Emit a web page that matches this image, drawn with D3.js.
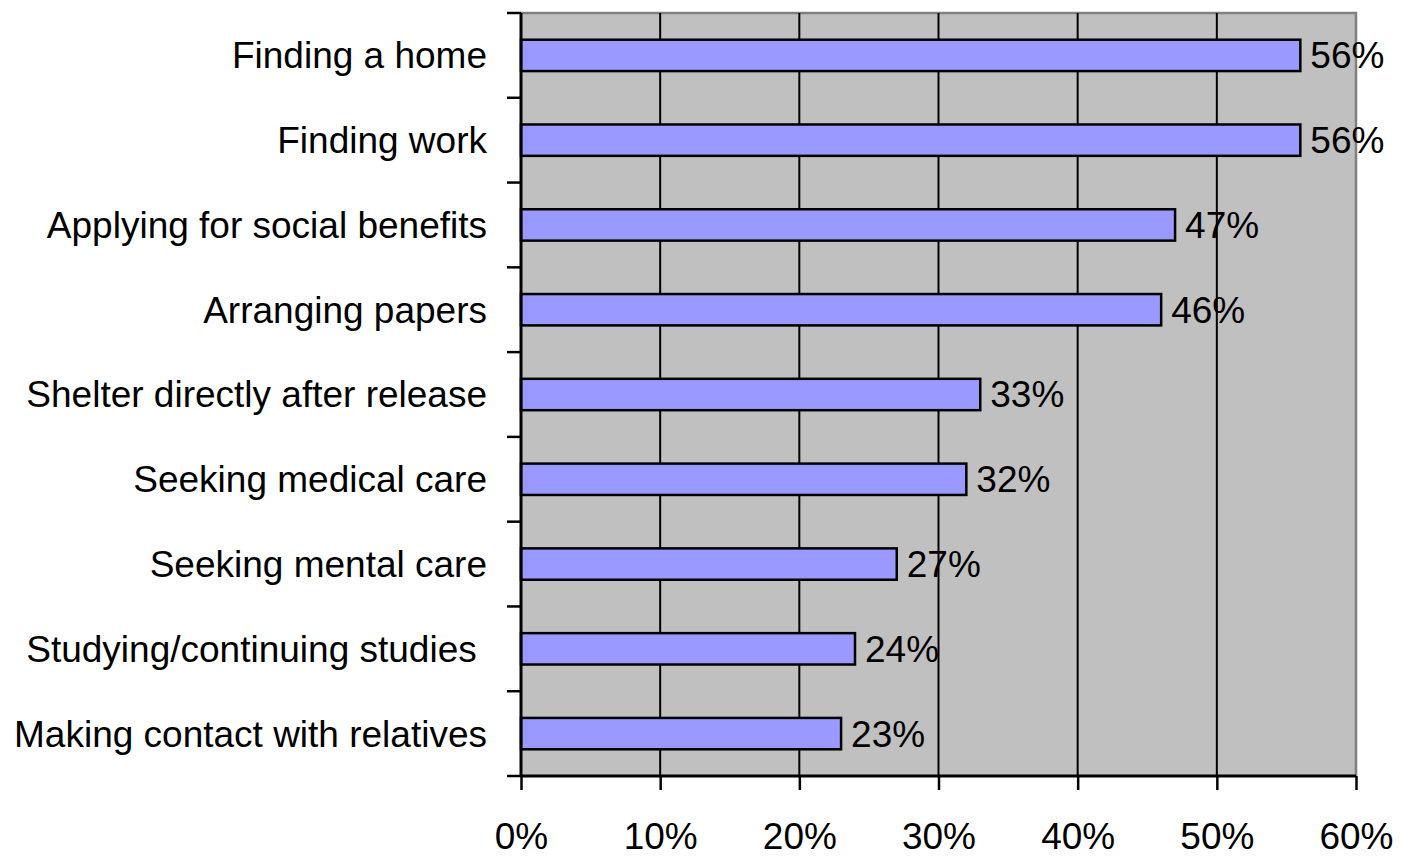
<!DOCTYPE html>
<html>
<head>
<meta charset="utf-8">
<script src="https://cdn.jsdelivr.net/npm/d3@7"></script>
<style>
  body { margin: 0; background: #fff; }
  svg text { font-family: "Liberation Sans", Arial, sans-serif; fill: #000; white-space: pre; }
</style>
</head>
<body>
<svg id="chart" width="1403" height="865"></svg>
<script>
var categories = ['Finding a home', 'Finding work', 'Applying for social benefits', 'Arranging papers',
                  'Shelter directly after release', 'Seeking medical care', 'Seeking mental care',
                  'Studying/continuing studies ', 'Making contact with relatives']
var values =     [56, 56, 47, 46, 33, 32, 27, 24, 23]
var xTicks =     [0, 10, 20, 30, 40, 50, 60]

var margin = { top: 13, right: 47, bottom: 89, left: 521 }
var width =  1403 - margin.left - margin.right
var height = 865 - margin.top - margin.bottom
var fontSize = 37

var svg = d3.select('#chart')
var g = svg.append('g').attr('transform', 'translate(' + margin.left + ',' + margin.top + ')')

var x = d3.scaleLinear().domain([0, 60]).range([0, width])
var y = d3.scaleBand().domain(categories).range([0, height]).paddingInner(0.63).paddingOuter(0.315)

// plot area
g.append('rect')
    .attr('width', width).attr('height', height)
    .attr('fill', '#c0c0c0')
g.append('path')
    .attr('d', 'M0,0H' + width + 'V' + height)
    .attr('fill', 'none').attr('stroke', '#808080').attr('stroke-width', 2.5)

// gridlines
g.selectAll('.grid').data(xTicks.slice(1, -1)).enter().append('line')
    .attr('x1', d => x(d)).attr('x2', d => x(d))
    .attr('y1', 0).attr('y2', height)
    .attr('stroke', '#000').attr('stroke-width', 2)

// bars
g.selectAll('.bar').data(values).enter().append('rect')
    .attr('x', 0)
    .attr('y', (d, i) => y(categories[i]))
    .attr('width', d => x(d))
    .attr('height', y.bandwidth())
    .attr('fill', '#9999ff').attr('stroke', '#000').attr('stroke-width', 2.5)

// value labels
g.selectAll('.val').data(values).enter().append('text')
    .attr('x', d => x(d) + 10)
    .attr('y', (d, i) => y(categories[i]) + y.bandwidth() / 2)
    .attr('dy', '0.35em')
    .attr('font-size', fontSize)
    .text(d => d + '%')

// x axis
var xAxis = g.append('g').attr('transform', 'translate(0,' + height + ')')
    .call(d3.axisBottom(x).tickValues(xTicks).tickFormat(d => d + '%').tickSize(14).tickPadding(33))
xAxis.select('.domain').attr('stroke-width', 3).attr('d', 'M0,0H' + width)
xAxis.selectAll('.tick line').attr('stroke-width', 2.5)
xAxis.selectAll('text').attr('font-size', fontSize).attr('font-family', '"Liberation Sans", Arial, sans-serif')

// y axis: ticks at band boundaries
var bounds = d3.range(categories.length + 1).map(i => i * height / categories.length)
var yAxis = g.append('g')
yAxis.append('line').attr('x1', 0).attr('x2', 0).attr('y1', 0).attr('y2', height)
    .attr('stroke', '#000').attr('stroke-width', 3)
yAxis.selectAll('.tk').data(bounds).enter().append('line')
    .attr('x1', -14).attr('x2', 0)
    .attr('y1', d => d).attr('y2', d => d)
    .attr('stroke', '#000').attr('stroke-width', 2.5)
yAxis.selectAll('.lbl').data(categories).enter().append('text')
    .attr('x', -34)
    .attr('y', d => y(d) + y.bandwidth() / 2)
    .attr('dy', '0.35em')
    .attr('text-anchor', 'end')
    .attr('font-size', fontSize)
    .text(d => d)
</script>
</body>
</html>
